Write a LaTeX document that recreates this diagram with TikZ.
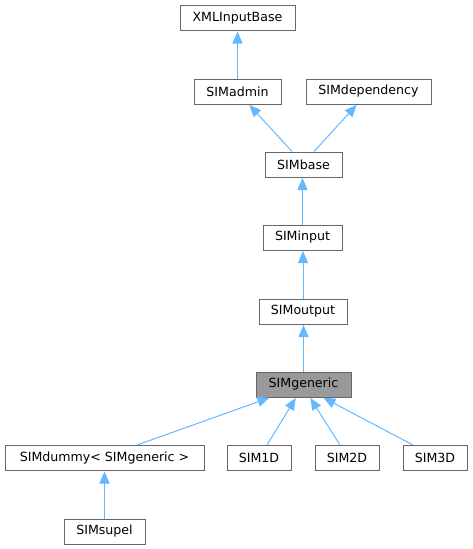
\documentclass[tikz,border=0pt]{standalone}
\usepackage{fontspec}
\setmainfont{DejaVu Sans}
\usetikzlibrary{arrows.meta}
\definecolor{edgeblue}{HTML}{63B8FF}
\definecolor{boxgray}{HTML}{666666}
\definecolor{fillgray}{HTML}{999999}
\begin{document}
\begin{tikzpicture}[x=1pt,y=-1pt,
  cls/.style={draw=boxgray,line width=1pt,fill=white,minimum height=25pt,inner sep=0pt,
    font=\fontsize{12.6}{15}\selectfont,text=black},
  hl/.style={cls,fill=fillgray},
  inh/.style={draw=edgeblue,line width=1pt,-{Triangle[length=12pt,width=10pt,fill=edgeblue]},shorten >=0.5pt}]
\useasboundingbox (0,0) rectangle (473,549);
\node[cls,minimum width=115pt] (xml) at (237.5,18) {XMLInputBase};
\node[cls,minimum width=87pt] (adm) at (237.5,91.5) {SIMadmin};
\node[cls,minimum width=125pt] (dep) at (368.5,91.5) {SIMdependency};
\node[cls,minimum width=77pt] (base) at (303.5,164.5) {SIMbase};
\node[cls,minimum width=79pt] (inp) at (302.5,237.5) {SIMinput};
\node[cls,minimum width=88pt] (out) at (303,311.5) {SIMoutput};
\node[hl,minimum width=95pt] (gen) at (303.5,384.5) {SIMgeneric};
\node[cls,minimum width=199pt] (dum) at (104.5,458) {SIMdummy< SIMgeneric >};
\node[cls,minimum width=64pt] (one) at (259,458) {SIM1D};
\node[cls,minimum width=64pt] (two) at (347,458) {SIM2D};
\node[cls,minimum width=64pt] (three) at (435,458) {SIM3D};
\node[cls,minimum width=81pt] (sup) at (104.5,531.5) {SIMsupel};
\draw[inh] (adm.north) -- (xml.south);
\draw[inh] ([xshift=-11.5pt]base.north) -- ([xshift=11.5pt]adm.south);
\draw[inh] ([xshift=10.5pt]base.north) -- ([xshift=-11.5pt]dep.south);
\draw[inh] (inp.north) -- (inp.north |- base.south);
\draw[inh] (out.north) -- (out.north |- inp.south);
\draw[inh] (gen.north) -- (gen.north |- out.south);
\draw[inh] ([xshift=32.5pt]dum.north) -- ([xshift=-33.5pt]gen.south);
\draw[inh] ([xshift=8pt]one.north) -- ([xshift=-7.5pt]gen.south);
\draw[inh] ([xshift=-7pt]two.north) -- ([xshift=6.5pt]gen.south);
\draw[inh] ([xshift=-22pt]three.north) -- ([xshift=19.5pt]gen.south);
\draw[inh] (sup.north) -- (dum.south);
\end{tikzpicture}
\end{document}
